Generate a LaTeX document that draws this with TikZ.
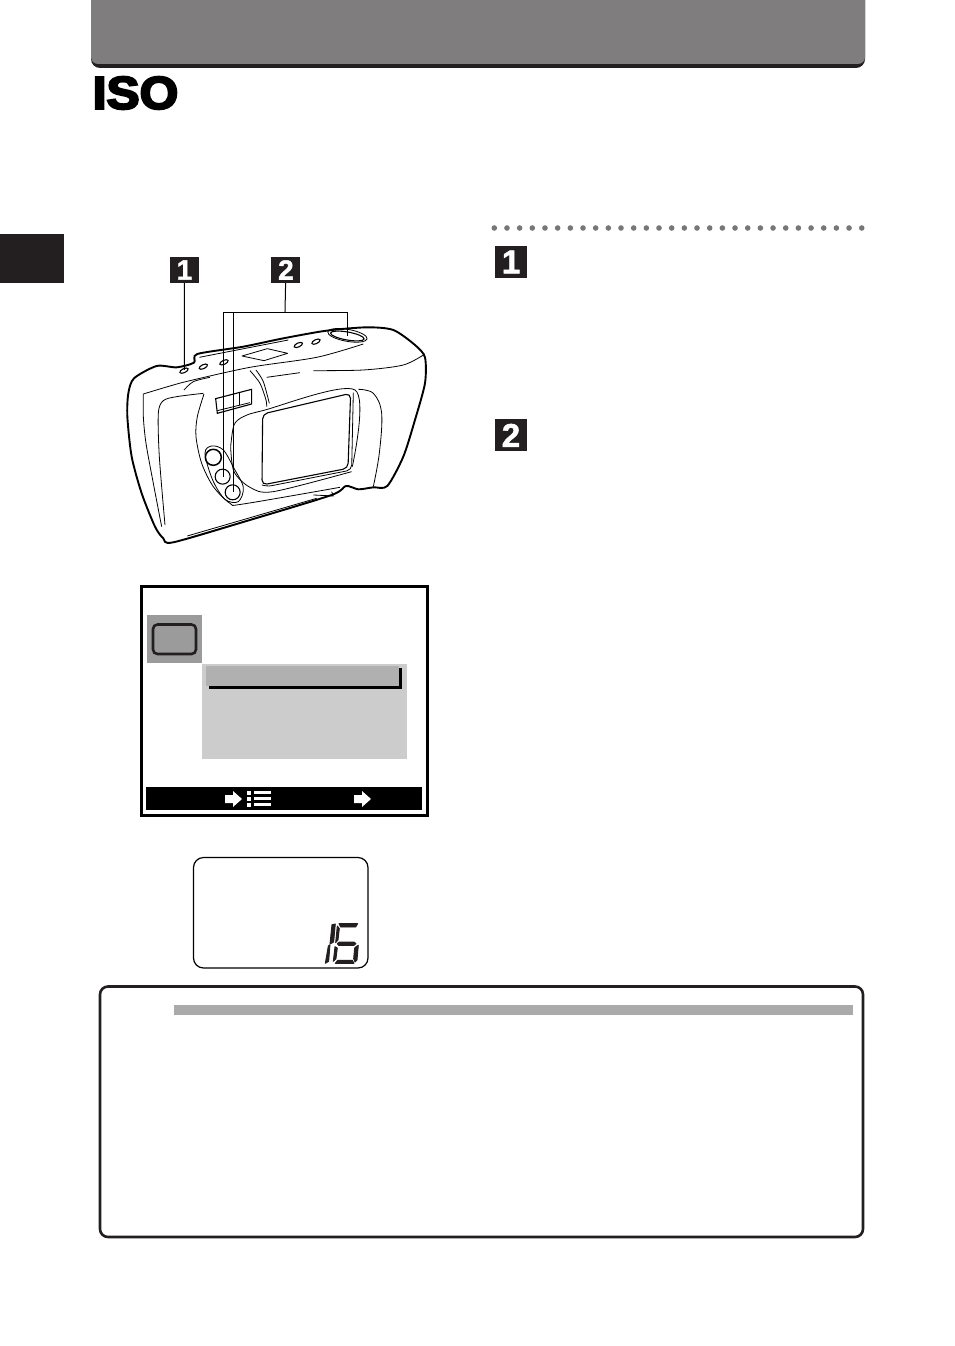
\documentclass[tikz,border=0pt]{standalone}
\usepackage{fontspec}
\setsansfont[BoldFeatures={FakeBold=1.5}]{Liberation Sans}
\newfontfamily\headfont[BoldFeatures={FakeBold=4.5}]{Liberation Sans}
\usepackage{tikz}
\usetikzlibrary{positioning}

\definecolor{headgray}{HTML}{7F7D7E}
\definecolor{dotgray}{HTML}{777777}
\definecolor{darkbox}{HTML}{231F20}
\definecolor{icongray}{HTML}{9B9B9B}
\definecolor{panelgray}{HTML}{CCCCCC}
\definecolor{selgray}{HTML}{B0B0B0}
\definecolor{notegray}{HTML}{AAAAAA}

\tikzset{
    badge/.style={fill=darkbox, text=white, inner sep=0pt, minimum width=29pt, minimum height=26pt, font=\sffamily\bfseries\fontsize{28}{28}\selectfont},
    bigbadge/.style={badge, minimum width=32pt, minimum height=32pt, font=\sffamily\bfseries\fontsize{33}{33}\selectfont},
    leader/.style={line width=1pt},
    body/.style={line width=1.9pt, line join=round},
    detail/.style={line width=0.8pt, line join=round},
    lcdseg/.style={fill=darkbox, draw=darkbox, line width=0.9pt, line join=round},
}

\begin{document}
\begin{tikzpicture}[x=1pt, y=-1pt]
    \useasboundingbox (0,0) rectangle (954,1346);

    \fill[darkbox] (91,0) [rounded corners=9pt] -- (91,68) -- (865,68) [sharp corners] -- (865,0) -- cycle;
    \fill[headgray] (91,0) [rounded corners=7pt] -- (91,64) -- (865,64) [sharp corners] -- (865,0) -- cycle;
    \node[anchor=west, inner sep=0pt, xscale=1.08, font=\headfont\bfseries\fontsize{46}{46}\selectfont] (title) at (92.5,93) {ISO};
    \fill[darkbox] (0,234) rectangle (64,283);

    \foreach \i in {0,...,29}
        \fill[dotgray] ({494.3+\i*12.67},228) circle (2.8pt);
    \node[bigbadge] (stepa) at (511,262) {1};
    \node[bigbadge, below=141pt of stepa] (stepb) {2};

    \node[badge] (keya) at (184.5,270) {1};
    \node[badge, right=72pt of keya] (keyb) {2};

    \begin{scope}[shift={(110,250)}, x=0.3333pt, y=-0.3333pt]
        \draw[body] plot[smooth cycle, tension=0.45] coordinates {(55,430) (72,385) (140,348) (200,352) (252,338) (262,312) (400,290) (520,265) (650,242) (770,232) (850,240) (915,285) (945,322) (945,400) (915,510) (880,620) (832,708) (790,712) (745,718) (708,708) (665,735) (420,810) (190,877) (160,865) (135,830) (95,730) (65,620) (52,500)};
        \draw[detail] plot[smooth, tension=0.5] coordinates {(100,432) (180,408) (240,392) (420,352) (620,322) (760,282)};
        \draw[detail] (268,322) -- (535,270);
        \draw[detail] plot[smooth, tension=0.5] coordinates {(100,432) (100,500) (108,580) (130,700) (155,830)};
        \draw[detail] plot[smooth, tension=0.5] coordinates {(280,430) (200,440) (160,452) (145,490) (148,620) (165,825)};
        \draw[detail] (470,382) -- (570,368);
        \draw[detail] plot[smooth, tension=0.5] coordinates {(610,362) (760,360) (880,345) (945,312)};
        \draw[detail] plot[smooth, tension=0.5] coordinates {(222,420) (250,395) (300,382)};
        \draw[detail] (232,858) -- (620,745);
        \draw[detail] (236,864) -- (625,749);
        \draw[detail] (610,735) -- (670,738) -- (665,725);
        \draw[detail] plot[smooth, tension=0.5] coordinates {(420,362) (450,400) (468,450) (470,470)};
        \draw[detail] plot[smooth, tension=0.5] coordinates {(438,360) (460,395) (478,460)};

        \draw[detail] plot[smooth, tension=0.5] coordinates {(282,432) (262,500) (258,560) (275,640) (310,710) (360,760) (400,762) (690,712)};
        \draw[detail] plot[smooth, tension=0.6] coordinates {(745,418) (790,430) (815,490) (808,610) (790,710)};
        \draw[detail] plot[smooth, tension=0.5] coordinates {(362,590) (372,525) (400,500) (458,482) (735,420) (727,650)};
        \draw[detail] plot[smooth, tension=0.5] coordinates {(362,590) (372,665) (420,712) (490,725) (725,665)};
        \draw[line width=1.1pt, rounded corners=5pt] (458,492) -- (722,430) -- (714,655) -- (456,705) -- cycle;
        \draw[detail, rounded corners=5pt] (456,705) -- (470,710) -- (725,660) -- (730,428);

        \draw[line width=1.1pt] (317,446) -- (425,418) -- (425,462) -- (322,490) -- cycle;
        \draw[detail] (322,482) -- (420,458);
        \draw[detail] (388,425) -- (388,465);
        \draw[detail] plot[smooth cycle, tension=0.55] coordinates {(285,610) (305,588) (340,600) (372,655) (400,712) (385,755) (345,748) (308,690)};
        \draw[line width=1.5pt] (310,622) circle (8pt);
        \draw[line width=1.1pt] (338,680) circle (7.5pt);
        \draw[line width=1.1pt] (368,727) circle (7.5pt);

        \draw[detail] (396,318) -- (472,296) -- (533,310) -- (462,332) -- cycle;
        \foreach \ex/\ey in {222/362, 280/350, 342/337, 565/285, 618/275}
            \draw[line width=1.1pt, rotate around={25:(\ex,\ey)}] (\ex,\ey) ellipse (4.5pt and 2pt);
        \draw[line width=1.1pt, rotate around={-10:(712,258)}] (712,258) ellipse (17pt and 4pt);
        \draw[detail, rotate around={-10:(712,258)}] (712,256) ellipse (20pt and 6pt);

        \coordinate (btna) at (223,360);
        \coordinate (corner) at (525,187);
        \coordinate (farleft) at (340,187);
        \coordinate (farright) at (712,187);
        \coordinate (midleft) at (372,187);
        \coordinate (btnb) at (340,680);
        \coordinate (btnc) at (372,727);
        \coordinate (btnd) at (712,258);
    \end{scope}

    \draw[leader] (keya) -- (btna);
    \draw[leader] (keyb) -- (corner);
    \draw[leader] (farleft) -- (farright) -- (btnd);
    \draw[leader, line width=1.4pt] (farleft) -- (btnb);
    \draw[leader] (midleft) -- (btnc);

    \draw[line width=3pt] (141.5,586.5) rectangle (427.5,815.5);
    \fill[icongray] (147,615) rectangle (202,663);
    \draw[line width=2.6pt, darkbox, rounded corners=4.5pt] (153,624.5) rectangle (196,654);
    \fill[panelgray] (202,664) rectangle (407,759);
    \fill[black] (209,668) rectangle (402,689);
    \fill[selgray] (206,666) rectangle (399,686);
    \fill[black] (146,787) rectangle (422,810);
    \foreach \ax in {225,354}
        \fill[white] (\ax,795) -- (\ax+8,795) -- (\ax+8,791) -- (\ax+17,799) -- (\ax+8,807) -- (\ax+8,803) -- (\ax,803) -- cycle;
    \foreach \ry in {791,797,803} {
        \fill[white] (247,\ry) rectangle (251,\ry+4);
        \fill[white] (254,\ry) rectangle (271,\ry+3);
    }

    \draw[line width=1.2pt, rounded corners=10pt] (193.5,857.5) rectangle (368,968);
    \begin{scope}[shift={(180,850)}, x=0.3333pt, y=-0.3333pt]
        \fill[lcdseg] (456,224) -- (466,222) -- (461,276) -- (450,282) -- cycle;
        \fill[lcdseg] (445,288) -- (450,284) -- (446,334) -- (436,340) -- cycle;
        \fill[lcdseg] (477,221) -- (533,221) -- (527,231) -- (482,231) -- cycle;
        \fill[lcdseg] (472,228) -- (478,236) -- (474,270) -- (467,278) -- cycle;
        \fill[lcdseg] (472,281) -- (478,276) -- (522,276) -- (528,281) -- (522,286) -- (476,286) -- cycle;
        \fill[lcdseg] (465,290) -- (472,294) -- (468,326) -- (460,334) -- cycle;
        \fill[lcdseg] (528,290) -- (535,286) -- (531,330) -- (525,336) -- (521,326) -- (524,294) -- cycle;
        \fill[lcdseg] (473,331) -- (517,331) -- (522,340) -- (466,340) -- cycle;
    \end{scope}

    \draw[line width=2.6pt, darkbox, rounded corners=8pt] (100,986.5) rectangle (863,1237);
    \fill[notegray] (174,1005) rectangle (853,1015);
\end{tikzpicture}
\end{document}
